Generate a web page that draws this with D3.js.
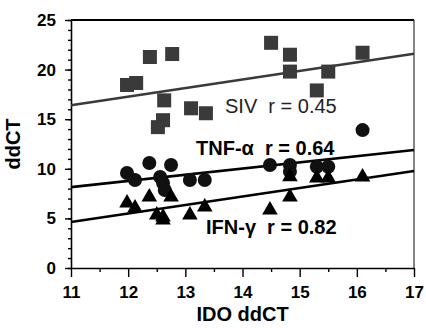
<!DOCTYPE html>
<html>
<head>
<meta charset="utf-8">
<script src="https://cdn.jsdelivr.net/npm/d3@7/dist/d3.min.js"></script>
<style>
  body { margin: 0; background: #fff; }
  svg { display: block; font-family: "Liberation Sans", Arial, Helvetica, sans-serif; }
</style>
</head>
<body>
<div id="chart"></div>
<script>
// SIV (squares)
var sivX = [11.98, 12.14, 12.38, 12.77, 12.63, 12.61, 12.52, 13.1, 13.36, 14.5, 14.83, 14.83, 15.5, 15.3, 16.1];
var sivY = [18.45, 18.65, 21.27, 21.57, 16.9, 14.9, 14.2, 16.1, 15.6, 22.7, 21.5, 19.8, 19.8, 17.9, 21.7];
// TNF-alpha (circles)
var tnfX = [11.98, 12.12, 12.37, 12.75, 12.56, 12.61, 12.64, 13.08, 13.34, 14.48, 14.83, 14.83, 15.3, 15.5, 16.1];
var tnfY = [9.58, 8.87, 10.58, 10.38, 9.17, 8.57, 7.86, 8.87, 8.87, 10.38, 10.38, 9.7, 10.2, 10.2, 13.9];
// IFN-gamma (triangles)
var ifnX = [11.98, 12.12, 12.37, 12.75, 12.5, 12.61, 12.61, 13.08, 13.34, 14.48, 14.83, 14.83, 15.3, 15.5, 16.1];
var ifnY = [6.55, 6.05, 7.16, 7.16, 5.34, 5.14, 4.84, 5.34, 6.15, 5.85, 7.16, 9.2, 9.07, 9.07, 9.17];

// fitted lines, value at x=11 and x=17
var fitX = [11, 17];
var sivFit = [16.4, 21.6];
var tnfFit = [8.15, 11.9];
var ifnFit = [4.64, 9.78];

var xTicks = [11, 12, 13, 14, 15, 16, 17];
var yTicks = [0, 5, 10, 15, 20, 25];
var labels = ["SIV", "TNF-\u03b1", "IFN-\u03b3"];
var rValues = ["0.45", "0.64", "0.82"];

var W = 426, H = 328;
var margin = {top: 20, right: 12, bottom: 60, left: 71};
var width = W - margin.left - margin.right,
    height = H - margin.top - margin.bottom;

var svg = d3.select("#chart").append("svg")
  .attr("width", W)
  .attr("height", H);

var g = svg.append("g")
  .attr("transform", "translate(" + margin.left + "," + margin.top + ")");

var x = d3.scaleLinear().domain([11, 17]).range([0, width]);
var y = d3.scaleLinear().domain([0, 25]).range([height, 0]);

// minor ticks
g.append("g")
  .attr("transform", "translate(0," + height + ")")
  .call(d3.axisBottom(x).tickValues(d3.range(11.5, 17, 1)).tickSize(4).tickFormat(""))
  .call(function(s) { s.select(".domain").remove(); });
g.append("g")
  .call(d3.axisLeft(y).tickValues(d3.range(0, 26, 1)).tickSize(3).tickFormat(""))
  .call(function(s) { s.select(".domain").remove(); });

// major axes
var xAxis = g.append("g")
  .attr("transform", "translate(0," + height + ")")
  .call(d3.axisBottom(x).tickValues(xTicks).tickFormat(d3.format("d"))
    .tickSize(9).tickPadding(9).tickSizeOuter(0));
var yAxis = g.append("g")
  .call(d3.axisLeft(y).tickValues(yTicks).tickSize(6).tickPadding(9).tickSizeOuter(0));

[xAxis, yAxis].forEach(function(a) {
  a.selectAll("path, line").attr("stroke", "#000").attr("stroke-width", 1.6);
  a.selectAll("text").attr("fill", "#000").style("font-size", "17px").style("font-weight", "bold");
});
g.selectAll(".tick line").attr("stroke", "#000").attr("stroke-width", 1.4);

// frame top/right
g.append("line").attr("x1", 0).attr("x2", width).attr("y1", 0).attr("y2", 0)
  .attr("stroke", "#000").attr("stroke-width", 1.8);
g.append("line").attr("x1", width).attr("x2", width).attr("y1", 0).attr("y2", height)
  .attr("stroke", "#333").attr("stroke-width", 1.2);

// regression lines
var fits = [[sivFit, "#3a3a3a"], [tnfFit, "#000"], [ifnFit, "#000"]];
fits.forEach(function(f) {
  g.append("line")
    .attr("x1", x(fitX[0])).attr("y1", y(f[0][0]))
    .attr("x2", x(fitX[1])).attr("y2", y(f[0][1]))
    .attr("stroke", f[1])
    .attr("stroke-width", 2.6);
});

// markers
var sq = 14;
g.selectAll("rect.siv")
  .data(sivX.map(function(v, i) { return [v, sivY[i]]; }))
  .enter().append("rect")
  .attr("class", "siv")
  .attr("x", function(d) { return x(d[0]) - sq / 2; })
  .attr("y", function(d) { return y(d[1]) - sq / 2; })
  .attr("width", sq).attr("height", sq)
  .attr("fill", "#3a3a3a");

g.selectAll("circle.tnf")
  .data(tnfX.map(function(v, i) { return [v, tnfY[i]]; }))
  .enter().append("circle")
  .attr("class", "tnf")
  .attr("cx", function(d) { return x(d[0]); })
  .attr("cy", function(d) { return y(d[1]); })
  .attr("r", 7)
  .attr("fill", "#111");

var tri = d3.symbol().type(d3.symbolTriangle).size(105);
g.selectAll("path.ifn")
  .data(ifnX.map(function(v, i) { return [v, ifnY[i]]; }))
  .enter().append("path")
  .attr("class", "ifn")
  .attr("d", tri)
  .attr("transform", function(d) { return "translate(" + x(d[0]) + "," + y(d[1]) + ")"; })
  .attr("fill", "#000");

// series labels
var labelPos = [[225, 113, false], [196, 155, true], [206, 234, true]];
labels.forEach(function(name, i) {
  svg.append("text")
    .attr("x", labelPos[i][0])
    .attr("y", labelPos[i][1])
    .style("font-size", "20px")
    .style("font-weight", labelPos[i][2] ? "bold" : "normal")
    .attr("fill", i === 0 ? "#222" : "#000")
    .text(name + "\u00a0\u00a0r = " + rValues[i]);
});

// axis titles
svg.append("text")
  .attr("x", margin.left + width / 2)
  .attr("y", 321)
  .attr("text-anchor", "middle")
  .style("font-size", "20px")
  .style("font-weight", "bold")
  .text("IDO ddCT");

svg.append("text")
  .attr("transform", "translate(20," + (margin.top + height / 2) + ") rotate(-90)")
  .attr("text-anchor", "middle")
  .style("font-size", "20px")
  .style("font-weight", "bold")
  .text("ddCT");
</script>
</body>
</html>
